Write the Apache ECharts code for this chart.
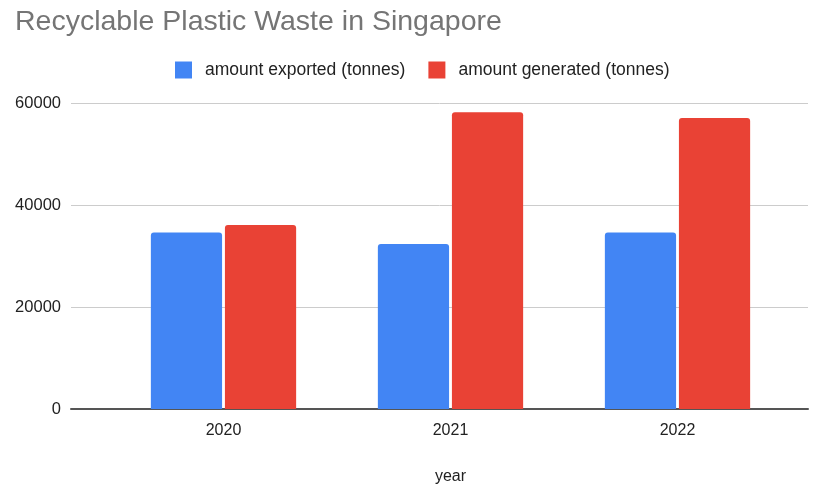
<!DOCTYPE html>
<html>
<head>
<meta charset="utf-8">
<script src="https://cdn.jsdelivr.net/npm/echarts@6/dist/echarts.min.js"></script>
<style>html,body{margin:0;padding:0;background:#fff}#c{width:820px;height:487px}</style>
</head>
<body>
<div id="c"></div>
<script>
const years = ['2020', '2021', '2022'];
const exported = [34600, 32350, 34600];
const generated = [36100, 58200, 57050];
const yTicks = { min: 0, max: 60000, interval: 20000 };

const font = 'Arial, "Liberation Sans", sans-serif';
const chart = echarts.init(document.getElementById('c'), null, { renderer: 'canvas' });
chart.setOption({
  animation: false,
  backgroundColor: '#fff',
  title: {
    text: 'Recyclable Plastic Waste in Singapore',
    left: 10, top: 3,
    textStyle: { fontFamily: font, fontSize: 28.5, fontWeight: 'normal', color: '#757575' }
  },
  legend: {
    top: 56, left: 170,
    itemWidth: 17, itemHeight: 17, itemGap: 23,
    icon: 'rect',
    textStyle: { fontFamily: font, fontSize: 17.5, color: '#222', padding: [0, 0, 0, 8] },
    data: ['amount exported (tonnes)', 'amount generated (tonnes)']
  },
  grid: [
    { left: 110, right: 29, top: 103, bottom: 78, outerBoundsMode: 'none' },
    { left: 71, right: 12, top: 103, bottom: 78, outerBoundsMode: 'none' }
  ],
  xAxis: [
    {
      type: 'category', gridIndex: 0, data: years,
      axisLine: { show: false }, axisTick: { show: false },
      axisLabel: { fontFamily: font, fontSize: 16, color: '#222', margin: 14 },
      name: 'year', nameLocation: 'middle', nameGap: 60,
      nameTextStyle: { fontFamily: font, fontSize: 16, color: '#222' }
    },
    {
      type: 'category', gridIndex: 1, data: years,
      axisLine: { show: true, lineStyle: { color: '#555', width: 2 } },
      axisTick: { show: false }, axisLabel: { show: false }
    }
  ],
  yAxis: [
    {
      type: 'value', gridIndex: 0, min: yTicks.min, max: yTicks.max, interval: yTicks.interval,
      axisLabel: { show: false }, splitLine: { show: false },
      axisLine: { show: false }, axisTick: { show: false }
    },
    {
      type: 'value', gridIndex: 1, min: yTicks.min, max: yTicks.max, interval: yTicks.interval,
      axisLabel: { fontFamily: font, fontSize: 16.5, color: '#222', margin: 10, formatter: v => String(v) },
      splitLine: { lineStyle: { color: '#cccccc', width: 1 } },
      axisLine: { show: false }, axisTick: { show: false }
    }
  ],
  series: [
    {
      name: 'amount exported (tonnes)', type: 'bar', xAxisIndex: 0, yAxisIndex: 0,
      data: exported, barCategoryGap: '36%', barGap: '4%', z: 3,
      itemStyle: { color: '#4285F4', borderRadius: [3, 3, 0, 0] }
    },
    {
      name: 'amount generated (tonnes)', type: 'bar', xAxisIndex: 0, yAxisIndex: 0,
      data: generated, barCategoryGap: '36%', barGap: '4%', z: 3,
      itemStyle: { color: '#E94235', borderRadius: [3, 3, 0, 0] }
    }
  ]
});
</script>
</body>
</html>
